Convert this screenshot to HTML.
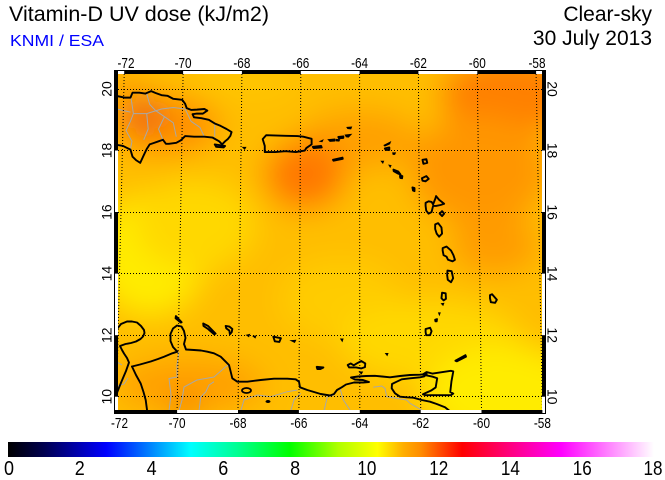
<!DOCTYPE html>
<html><head><meta charset="utf-8">
<style>
html,body{margin:0;padding:0;background:#fff;}
svg{display:block;}
text{font-family:"Liberation Sans",Arial,sans-serif;}
.c{fill:none;stroke:#000;stroke-width:1.9;vector-effect:non-scaling-stroke;stroke-linejoin:round;stroke-linecap:round;}
.f{fill:#000;stroke:#000;stroke-width:1.2;vector-effect:non-scaling-stroke;}
.g{fill:none;stroke:#a8a8a8;stroke-width:1;vector-effect:non-scaling-stroke;stroke-linejoin:round;}
.grid{stroke:#000;stroke-width:1;stroke-dasharray:1 2;fill:none;}
.tk{font-size:15px;}
.lt{font-size:14px;}
</style></head>
<body>
<svg width="665" height="480" viewBox="0 0 665 480" xmlns="http://www.w3.org/2000/svg">
<defs>
<clipPath id="mc"><rect x="118" y="74" width="424" height="336"/></clipPath>
<filter id="bl" x="-20%" y="-20%" width="140%" height="140%"><feGaussianBlur stdDeviation="15"/></filter>
<linearGradient id="cb" x1="0" y1="0" x2="1" y2="0">
<stop offset="0" stop-color="#000000"/>
<stop offset="0.056" stop-color="#000050"/>
<stop offset="0.152" stop-color="#0000ff"/>
<stop offset="0.194" stop-color="#0050ff"/>
<stop offset="0.283" stop-color="#00ffff"/>
<stop offset="0.356" stop-color="#00ff90"/>
<stop offset="0.436" stop-color="#00ff00"/>
<stop offset="0.511" stop-color="#b0ff00"/>
<stop offset="0.572" stop-color="#ffff00"/>
<stop offset="0.611" stop-color="#ffb000"/>
<stop offset="0.639" stop-color="#ff8c00"/>
<stop offset="0.703" stop-color="#ff0000"/>
<stop offset="0.778" stop-color="#ff0080"/>
<stop offset="0.856" stop-color="#ff00ff"/>
<stop offset="1" stop-color="#ffffff"/>
</linearGradient>
</defs>

<text x="9" y="21" font-size="21" textLength="260" lengthAdjust="spacingAndGlyphs">Vitamin-D UV dose (kJ/m2)</text>
<text x="10" y="46" font-size="16" fill="#0000ff" textLength="94" lengthAdjust="spacingAndGlyphs">KNMI / ESA</text>
<text x="652" y="21" font-size="21" text-anchor="end">Clear-sky</text>
<text x="652" y="45" font-size="21" text-anchor="end">30 July 2013</text>

<rect x="114" y="70" width="432" height="344" fill="#000"/>
<rect x="115" y="71" width="430" height="342" fill="#fff"/>
<g fill="#000">
<rect x="124.2" y="71" width="58.9" height="3"/>
<rect x="241.9" y="71" width="58.9" height="3"/>
<rect x="359.6" y="71" width="58.8" height="3"/>
<rect x="477.3" y="71" width="58.8" height="3"/>
<rect x="115" y="410" width="62.1" height="3"/>
<rect x="238" y="410" width="60.9" height="3"/>
<rect x="359.8" y="410" width="60.9" height="3"/>
<rect x="481.5" y="410" width="60.9" height="3"/>
<rect x="115" y="71" width="3" height="79.5"/>
<rect x="115" y="212" width="3" height="61.6"/>
<rect x="115" y="335.2" width="3" height="61.5"/>
<rect x="542" y="71" width="3" height="79.5"/>
<rect x="542" y="212" width="3" height="61.6"/>
<rect x="542" y="335.2" width="3" height="61.5"/>
</g>

<g clip-path="url(#mc)">
<g filter="url(#bl)">
<rect x="70" y="30" width="520" height="420" fill="#ffbe00"/>
<ellipse cx="125" cy="90" rx="22" ry="20" fill="#ffa400"/>
<ellipse cx="240" cy="84" rx="60" ry="12" fill="#ffc800"/>
<ellipse cx="165" cy="125" rx="55" ry="30" fill="#ff9000"/>
<ellipse cx="145" cy="115" rx="20" ry="15" fill="#e85818"/>
<ellipse cx="150" cy="255" rx="55" ry="60" fill="#ffec00"/>
<ellipse cx="195" cy="225" rx="60" ry="45" fill="#ffd800"/>
<ellipse cx="340" cy="300" rx="60" ry="40" fill="#ffcc00"/>
<ellipse cx="430" cy="340" rx="90" ry="40" fill="#ffd800"/>
<ellipse cx="505" cy="395" rx="80" ry="50" fill="#ffec00"/>
<ellipse cx="510" cy="95" rx="70" ry="40" fill="#ff8000"/>
<ellipse cx="480" cy="170" rx="70" ry="55" fill="#ff9600"/>
<ellipse cx="495" cy="245" rx="45" ry="30" fill="#ff9c00"/>
<ellipse cx="360" cy="140" rx="60" ry="30" fill="#ffa000"/>
<ellipse cx="305" cy="175" rx="40" ry="35" fill="#ff7800"/>
<ellipse cx="190" cy="385" rx="75" ry="28" fill="#ffa000"/>
<ellipse cx="185" cy="407" rx="14" ry="10" fill="#ee6800"/>
</g>

<g transform="matrix(29.57,0,0,-30.77,2252.1,704.4)">
<polyline class="g" points="-71.73,19.7 -71.65,19.2 -71.75,18.95 -71.9,18.65 -71.7,18.3 -71.75,18.05"/>
<polyline class="g" points="-71.2,19.85 -71.1,19.5 -70.9,19.3 -70.6,19.1 -70.3,18.9 -70.2,18.45"/>
<polyline class="g" points="-71.65,19.2 -71.2,19.2 -70.7,19.35 -70.3,19.4 -69.9,19.35"/>
<polyline class="g" points="-71.2,19.2 -71.15,18.7 -71.3,18.35"/>
<polyline class="g" points="-70.6,19.1 -70.8,18.7 -70.65,18.35"/>
<polyline class="g" points="-69.9,19.35 -69.7,18.95 -69.4,18.75 -69.25,18.45"/>
<polyline class="g" points="-68.9,18.85 -68.9,18.45"/>
<polyline class="g" points="-72.4,19.4 -72.0,19.3 -71.75,19.25"/>
<polygon class="c" points="-72.9,19.95 -72.5,19.85 -72.2,19.77 -71.95,19.72 -71.75,19.72 -71.68,19.88 -71.45,19.88 -71.25,19.85 -71.05,19.93 -70.9,19.87 -70.7,19.8 -70.5,19.78 -70.3,19.68 -70.0,19.65 -69.9,19.52 -69.85,19.38 -69.7,19.32 -69.5,19.33 -69.25,19.35 -69.15,19.3 -69.3,19.2 -69.5,19.2 -69.65,19.18 -69.6,19.08 -69.35,19.05 -69.1,19.0 -68.9,18.88 -68.7,18.8 -68.5,18.7 -68.33,18.6 -68.37,18.48 -68.45,18.38 -68.55,18.3 -68.65,18.2 -68.75,18.3 -68.97,18.42 -69.25,18.45 -69.6,18.45 -69.9,18.47 -70.05,18.33 -70.2,18.25 -70.45,18.22 -70.55,18.22 -70.65,18.35 -70.8,18.3 -70.95,18.25 -71.1,18.2 -71.2,18.05 -71.3,17.85 -71.42,17.6 -71.55,17.68 -71.68,17.8 -71.75,18.03 -72.0,18.15 -72.3,18.2 -72.55,18.23 -73.0,18.2 -73.0,18.5 -72.6,18.55 -72.35,18.57 -72.5,18.75 -72.7,18.95 -72.8,19.1 -72.7,19.4 -72.9,19.7"/>
<polygon class="c" points="-68.9,18.2 -68.55,18.15 -68.6,18.1 -68.85,18.12"/>
</g>

<g transform="matrix(29.65,0,0,-30.77,2257.25,704.4)">
<polygon class="c" points="-67.27,18.37 -67.15,18.5 -66.9,18.49 -66.5,18.48 -66.1,18.47 -65.9,18.45 -65.62,18.38 -65.62,18.2 -65.8,18.08 -65.85,18.0 -66.15,17.95 -66.5,17.98 -66.85,17.95 -67.2,17.95 -67.2,18.15"/>
<polygon class="c" points="-65.58,18.12 -65.3,18.15 -65.28,18.1 -65.55,18.08"/>
<polygon class="f" points="-65.32,18.3 -65.25,18.33 -65.27,18.29"/>
<polygon class="f" points="-67.93,18.1 -67.85,18.1 -67.88,18.05"/>
<polygon class="f" points="-65.05,18.35 -64.85,18.37 -64.85,18.31 -65.0,18.3"/>
<polygon class="f" points="-64.8,18.36 -64.68,18.35 -64.7,18.31 -64.8,18.32"/>
<polygon class="c" points="-64.72,18.44 -64.55,18.46 -64.55,18.41 -64.7,18.4"/>
<polygon class="f" points="-64.48,18.5 -64.3,18.52 -64.38,18.44 -64.45,18.45"/>
<polygon class="f" points="-64.42,18.75 -64.28,18.76 -64.3,18.71 -64.4,18.72"/>
<polygon class="c" points="-64.9,17.7 -64.58,17.77 -64.57,17.73 -64.88,17.67"/>
<polygon class="f" points="-63.17,18.17 -62.97,18.27 -62.99,18.22 -63.15,18.15"/>
<polygon class="c" points="-63.15,18.07 -63.0,18.1 -63.0,18.02 -63.12,18.02"/>
<polygon class="f" points="-62.88,17.92 -62.8,17.92 -62.82,17.88 -62.87,17.88"/>
<polygon class="f" points="-63.26,17.65 -63.2,17.65 -63.22,17.6"/>
<polygon class="f" points="-63.0,17.52 -62.95,17.51 -62.97,17.47"/>
<polygon class="c" points="-62.86,17.38 -62.7,17.32 -62.62,17.22 -62.7,17.25 -62.85,17.33"/>
<polygon class="c" points="-62.64,17.18 -62.56,17.17 -62.57,17.1 -62.63,17.11"/>
<polygon class="c" points="-61.88,17.7 -61.75,17.72 -61.72,17.6 -61.85,17.57"/>
<polygon class="c" points="-61.9,17.1 -61.75,17.17 -61.67,17.08 -61.78,17.0 -61.88,17.02"/>
<polygon class="c" points="-62.22,16.8 -62.15,16.78 -62.15,16.68 -62.2,16.7"/>
</g>

<g transform="matrix(29.95,0,0,-30.77,2276.5,704.4)">
<polygon class="c" points="-61.8,16.3 -61.7,16.35 -61.6,16.33 -61.55,16.25 -61.47,16.45 -61.45,16.52 -61.35,16.4 -61.18,16.27 -61.3,16.23 -61.45,16.2 -61.55,16.2 -61.6,16.0 -61.7,15.95 -61.78,16.05 -61.8,16.2"/>
<polygon class="c" points="-61.33,15.95 -61.25,16.03 -61.18,15.95 -61.25,15.87"/>
<polygon class="c" points="-61.48,15.6 -61.38,15.64 -61.27,15.5 -61.25,15.3 -61.35,15.2 -61.43,15.3 -61.48,15.45"/>
<polygon class="c" points="-61.23,14.83 -61.1,14.88 -60.95,14.75 -60.87,14.6 -60.82,14.45 -60.9,14.4 -61.05,14.45 -61.1,14.55 -61.2,14.6 -61.23,14.75"/>
<polygon class="c" points="-61.07,14.1 -60.93,14.08 -60.88,13.85 -60.95,13.72 -61.06,13.8 -61.08,13.95"/>
<polygon class="c" points="-61.25,13.38 -61.13,13.36 -61.12,13.18 -61.2,13.13 -61.27,13.2"/>
<polygon class="f" points="-61.26,13.02 -61.2,13.03 -61.22,12.98"/>
<polygon class="f" points="-61.36,12.72 -61.32,12.72 -61.34,12.67"/>
<polygon class="c" points="-61.48,12.5 -61.42,12.52 -61.43,12.45 -61.47,12.45"/>
<polygon class="c" points="-61.8,12.2 -61.65,12.24 -61.6,12.13 -61.65,12.0 -61.78,12.0 -61.8,12.1"/>
<polygon class="c" points="-59.65,13.3 -59.58,13.33 -59.42,13.15 -59.48,13.05 -59.62,13.07 -59.65,13.2"/>
</g>

<g transform="matrix(30.35,0,0,-30.77,2302.2,704.4)">
<polygon class="c" points="-70.06,12.62 -69.87,12.42 -69.9,12.41 -70.07,12.55"/>
<polygon class="c" points="-69.16,12.38 -69.0,12.3 -68.75,12.05 -68.8,12.03 -69.0,12.2 -69.15,12.3"/>
<polygon class="c" points="-68.42,12.3 -68.3,12.28 -68.2,12.2 -68.22,12.1 -68.28,12.03 -68.3,12.15 -68.4,12.22"/>
<polygon class="f" points="-67.72,12.0 -67.64,12.02 -67.66,11.96"/>
<polygon class="f" points="-67.5,11.96 -67.43,11.97 -67.45,11.92"/>
<polygon class="c" points="-66.85,11.95 -66.6,11.9 -66.65,11.78 -66.8,11.8"/>
<polygon class="f" points="-66.25,11.82 -66.12,11.83 -66.15,11.77"/>
<polygon class="c" points="-65.42,10.97 -65.2,10.95 -65.3,10.9 -65.4,10.9"/>
<polygon class="f" points="-64.62,11.87 -64.56,11.87 -64.58,11.81"/>
<polygon class="f" points="-63.14,11.4 -63.08,11.4 -63.1,11.35"/>
<polygon class="c" points="-64.4,11.03 -64.3,11.08 -64.2,11.02 -64.1,11.08 -63.95,11.16 -63.82,11.08 -63.83,10.96 -63.95,10.92 -64.12,10.95 -64.22,10.95 -64.35,10.95"/>
<polygon class="f" points="-64.0,10.8 -63.92,10.8 -63.95,10.75"/>
<polygon class="c" points="-60.85,11.17 -60.52,11.35 -60.5,11.3 -60.8,11.15"/>
<polygon class="c" points="-61.93,10.72 -61.8,10.8 -61.6,10.75 -61.0,10.84 -60.92,10.82 -60.98,10.5 -61.02,10.15 -60.92,10.1 -61.0,10.05 -61.5,10.05 -61.85,10.05 -61.92,10.08 -61.65,10.2 -61.5,10.3 -61.45,10.6 -61.6,10.65"/>
</g>

<g>
<polyline class="g" points="179,352 177,365 177,377 169,378.5 171,395 169,411"/>
<polyline class="g" points="179,411 182,400 184,387 197,380 214,377 225.7,366.7 229,365"/>
<polyline class="g" points="199,411 200.7,397 205.7,392 209,385 214,381.7"/>
<polyline class="g" points="240.7,411 244,400 257.3,395 270.7,396.7 287.3,391.7 297.3,390"/>
<polyline class="g" points="290.7,411 294,400 300.7,393.3"/>
<polyline class="g" points="324,411 327.3,397 334,395"/>
<polyline class="g" points="340,388.3 343.3,400 350,410"/>
<polyline class="g" points="373.3,387.3 381.7,386 385,388.3 386.7,396.7 406.7,400 410,403.3 423.3,411"/>
<polyline class="g" points="117,362 122,365"/>
<polyline class="g" points="117,386 124,384 128,378"/>
<polyline class="c" points="117,329 121,324 127,321.5 132,321.5 137,322.5 141,326 144,330 144.5,333 143,336.5 140.5,339 136,341.5 131,343 125.5,344 120,346 122,350 124,353.5 127,358 129,362.5 126,371 123,378 120.7,383.5 117.5,391.5 116,396"/>
<polyline class="c" points="132,366.5 136,375 140.7,383.5 143.5,392 145.7,400 147.3,412"/>
<polyline class="c" points="132,366.5 140,364.5 150.7,361.5 158,359 164,356.7 172.3,353.3 177.3,351.7 173,347 170.5,341 170.5,334 173,328.5 177,325.5 181.5,326.5 184,331 185.5,338 184,344 186,349.5 194,350 201,350.5 207.3,351.7 214,353.3 220.7,356.7 225.7,361.7 229,365 230.7,371.7 232.3,378.3 237.3,381.7 247.3,381.7 260.7,380 274,378.7 287.3,378.7 295.7,379.3 299,381.7 300,387.3 307.3,390 320.7,394 330,395.5 334,394 337,390 341.7,387.3 346,384.5 354,382.5 363,382.5 369,382 363,380 355,379.5 351,377.5 358,376.5 366,376 375,375.8 382,376.5 390,377.3 400,376 410,375 420,374.7 426.7,374 424,376.5 420,377.3 410,378.3 401.7,379.3 396.7,381.7 392,384 391.7,388.3 395,393.3 400,396.7 406.7,397.3 413.3,397.7 421.7,400 430,401.7 436.7,404 445,407.3 451,412"/>
<ellipse cx="246.5" cy="390.5" rx="4.5" ry="2.5" fill="none" stroke="#000" stroke-width="1.8"/>
<ellipse cx="268" cy="401.5" rx="2.5" ry="1.5" fill="#000"/>
</g>

<g class="grid">
<line x1="118" y1="89.5" x2="542" y2="89.5"/>
<line x1="118" y1="150.5" x2="542" y2="150.5"/>
<line x1="118" y1="212.5" x2="542" y2="212.5"/>
<line x1="118" y1="273.5" x2="542" y2="273.5"/>
<line x1="118" y1="335.5" x2="542" y2="335.5"/>
<line x1="118" y1="396.5" x2="542" y2="396.5"/>
<line x1="124.2" y1="74" x2="116.3" y2="410"/>
<line x1="183.1" y1="74" x2="177.1" y2="410"/>
<line x1="241.9" y1="74" x2="238" y2="410"/>
<line x1="300.8" y1="74" x2="298.9" y2="410"/>
<line x1="359.6" y1="74" x2="359.8" y2="410"/>
<line x1="418.4" y1="74" x2="420.7" y2="410"/>
<line x1="477.3" y1="74" x2="481.5" y2="410"/>
<line x1="536.1" y1="74" x2="542.4" y2="410"/>
</g>
</g>

<g text-anchor="middle">
<text class="tk" x="126" y="68" textLength="17" lengthAdjust="spacingAndGlyphs">-72</text>
<text class="tk" x="183.1" y="68" textLength="17" lengthAdjust="spacingAndGlyphs">-70</text>
<text class="tk" x="241.9" y="68" textLength="17" lengthAdjust="spacingAndGlyphs">-68</text>
<text class="tk" x="300.8" y="68" textLength="17" lengthAdjust="spacingAndGlyphs">-66</text>
<text class="tk" x="359.6" y="68" textLength="17" lengthAdjust="spacingAndGlyphs">-64</text>
<text class="tk" x="418.4" y="68" textLength="17" lengthAdjust="spacingAndGlyphs">-62</text>
<text class="tk" x="477.3" y="68" textLength="17" lengthAdjust="spacingAndGlyphs">-60</text>
<text class="tk" x="537" y="68" textLength="17" lengthAdjust="spacingAndGlyphs">-58</text>
<text class="tk" x="119.5" y="428" textLength="17" lengthAdjust="spacingAndGlyphs">-72</text>
<text class="tk" x="177.1" y="428" textLength="17" lengthAdjust="spacingAndGlyphs">-70</text>
<text class="tk" x="238" y="428" textLength="17" lengthAdjust="spacingAndGlyphs">-68</text>
<text class="tk" x="298.9" y="428" textLength="17" lengthAdjust="spacingAndGlyphs">-66</text>
<text class="tk" x="359.8" y="428" textLength="17" lengthAdjust="spacingAndGlyphs">-64</text>
<text class="tk" x="420.7" y="428" textLength="17" lengthAdjust="spacingAndGlyphs">-62</text>
<text class="tk" x="481.5" y="428" textLength="17" lengthAdjust="spacingAndGlyphs">-60</text>
<text class="tk" x="542.4" y="428" textLength="17" lengthAdjust="spacingAndGlyphs">-58</text>
<text class="lt" transform="translate(111.5,89) rotate(-90)">20</text>
<text class="lt" transform="translate(111.5,150.5) rotate(-90)">18</text>
<text class="lt" transform="translate(111.5,212.1) rotate(-90)">16</text>
<text class="lt" transform="translate(111.5,273.6) rotate(-90)">14</text>
<text class="lt" transform="translate(111.5,335.2) rotate(-90)">12</text>
<text class="lt" transform="translate(111.5,396.7) rotate(-90)">10</text>
<text class="lt" transform="translate(547.5,89) rotate(90)">20</text>
<text class="lt" transform="translate(547.5,150.5) rotate(90)">18</text>
<text class="lt" transform="translate(547.5,212.1) rotate(90)">16</text>
<text class="lt" transform="translate(547.5,273.6) rotate(90)">14</text>
<text class="lt" transform="translate(547.5,335.2) rotate(90)">12</text>
<text class="lt" transform="translate(547.5,396.7) rotate(90)">10</text>
</g>

<rect x="8" y="442" width="646" height="15" fill="url(#cb)"/>
<g font-size="20" text-anchor="middle">
<text x="9" y="475" textLength="10" lengthAdjust="spacingAndGlyphs">0</text>
<text x="79.8" y="475" textLength="10" lengthAdjust="spacingAndGlyphs">2</text>
<text x="151.6" y="475" textLength="10" lengthAdjust="spacingAndGlyphs">4</text>
<text x="223.3" y="475" textLength="10" lengthAdjust="spacingAndGlyphs">6</text>
<text x="295.1" y="475" textLength="10" lengthAdjust="spacingAndGlyphs">8</text>
<text x="366.9" y="475" textLength="19" lengthAdjust="spacingAndGlyphs">10</text>
<text x="438.7" y="475" textLength="19" lengthAdjust="spacingAndGlyphs">12</text>
<text x="510.4" y="475" textLength="19" lengthAdjust="spacingAndGlyphs">14</text>
<text x="582.2" y="475" textLength="19" lengthAdjust="spacingAndGlyphs">16</text>
<text x="653" y="475" textLength="19" lengthAdjust="spacingAndGlyphs">18</text>
</g>
</svg>
</body></html>
